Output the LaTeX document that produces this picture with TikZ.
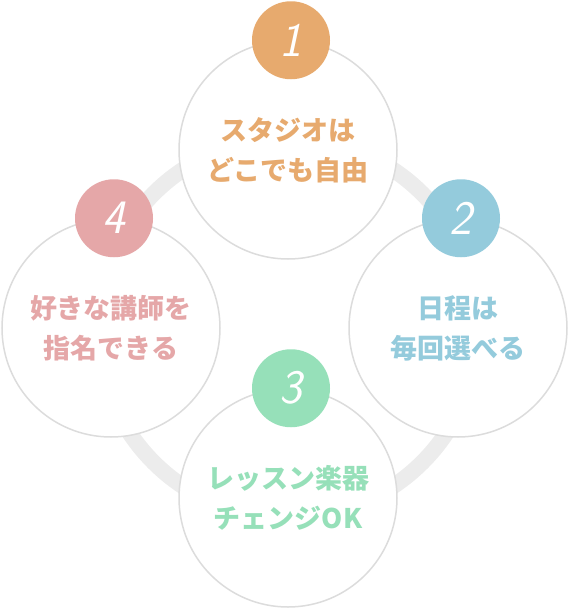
\documentclass[tikz,border=0pt]{standalone}
\usepackage{fontspec}
\newfontfamily\jp{Noto Sans CJK JP}
\usepackage{xcolor}
\definecolor{step-orange}{RGB}{231,170,110}
\definecolor{step-blue}{RGB}{148,203,220}
\definecolor{step-green}{RGB}{150,224,185}
\definecolor{step-pink}{RGB}{229,167,168}
\definecolor{ring-gray}{RGB}{236,236,236}
\definecolor{edge-gray}{RGB}{220,220,220}
\usepackage{tikz}
\usetikzlibrary{positioning, calc}

\begin{document}
\begin{tikzpicture}[
    x=1pt, y=-1pt,
    stepcircle/.style={circle, draw=edge-gray, line width=1.5pt, fill=white, minimum size=218pt, inner sep=0pt, align=center, font={\jp\bfseries\fontsize{27}{40}\selectfont}},
    badge/.style={circle, minimum size=78pt, inner sep=0pt, text=white, font={\sffamily\itshape\fontsize{48}{48}\selectfont}},
    ring/.style={line width=16pt, draw=ring-gray}
]
    \useasboundingbox (0,0) rectangle (568,608);

    % Ring
    \coordinate (hub) at (288,328);
    \draw[ring] (hub) circle[radius=190];

    % Steps
    \node[stepcircle, text=step-orange] (c1) at (288,150) {スタジオは\\どこでも自由};
    \node[stepcircle, text=step-blue] (c2) at (458,328) {日程は\\毎回選べる};
    \node[stepcircle, text=step-green] (c3) at (288,498) {レッスン楽器\\チェンジOK};
    \node[stepcircle, text=step-pink] (c4) at (111,328) {好きな講師を\\指名できる};

    % Badges
    \node[badge, fill=step-orange] (b1) at ([xshift=3pt]c1.north) {1};
    \node[badge, fill=step-blue] (b2) at ([xshift=3pt]c2.north) {2};
    \node[badge, fill=step-green] (b3) at ([xshift=3pt]c3.north) {3};
    \node[badge, fill=step-pink] (b4) at ([xshift=3pt]c4.north) {4};
\end{tikzpicture}
\end{document}
